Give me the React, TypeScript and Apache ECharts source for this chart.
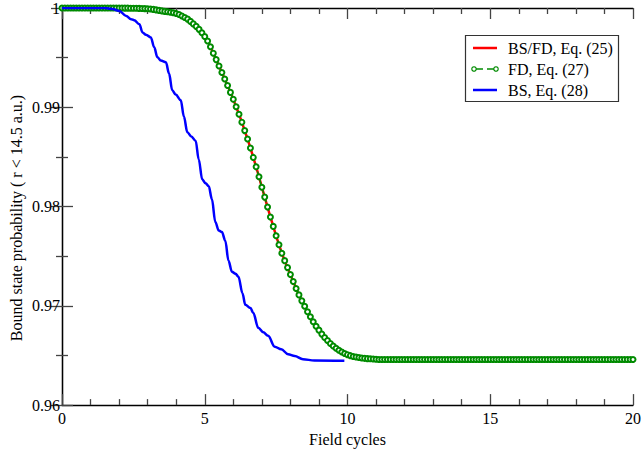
import React, { useEffect, useRef } from "react";
import * as echarts from "echarts";

// Eq. (25) / Eq. (27): bound state probability sampled every 0.1 field cycle, from 0 to 20
const xStep = 0.1;
const probFD: number[] = [
  1, 1, 1, 1, 1, 1, 1, 1, 1, 1,
  1, 1, 1, 1, 1, 1, 1, 1, 1, 1,
  1, 1, 0.99999, 0.99999, 0.99998, 0.99998, 0.99997, 0.99996, 0.99995, 0.99994,
  0.99992, 0.9999, 0.99986, 0.99981, 0.99976, 0.99971, 0.99966, 0.99962, 0.99957, 0.99952,
  0.99945, 0.99935, 0.9992, 0.99905, 0.99888, 0.99865, 0.9984, 0.99815, 0.99785, 0.9975,
  0.99712, 0.99668, 0.9961, 0.99545, 0.9948, 0.99415, 0.9935, 0.99285, 0.9922, 0.9915,
  0.9908, 0.99005, 0.9893, 0.9885, 0.98765, 0.9868, 0.9859, 0.98495, 0.984, 0.983,
  0.98195, 0.98095, 0.97995, 0.97895, 0.978, 0.97705, 0.97615, 0.9753, 0.97455, 0.97385,
  0.97315, 0.97245, 0.97175, 0.9711, 0.9705, 0.96995, 0.9694, 0.9689, 0.9684, 0.96795,
  0.96755, 0.96715, 0.9668, 0.9665, 0.9662, 0.96595, 0.96572, 0.96552, 0.96535, 0.9652,
  0.96508, 0.96498, 0.9649, 0.96484, 0.96479, 0.96475, 0.96471, 0.96468, 0.96466, 0.96464,
  0.96462, 0.9646, 0.9646, 0.9646, 0.9646, 0.9646, 0.9646, 0.9646, 0.9646, 0.9646,
  0.9646, 0.9646, 0.9646, 0.9646, 0.9646, 0.9646, 0.9646, 0.9646, 0.9646, 0.9646,
  0.9646, 0.9646, 0.9646, 0.9646, 0.9646, 0.9646, 0.9646, 0.9646, 0.9646, 0.9646,
  0.9646, 0.9646, 0.9646, 0.9646, 0.9646, 0.9646, 0.9646, 0.9646, 0.9646, 0.9646,
  0.9646, 0.9646, 0.9646, 0.9646, 0.9646, 0.9646, 0.9646, 0.9646, 0.9646, 0.9646,
  0.9646, 0.9646, 0.9646, 0.9646, 0.9646, 0.9646, 0.9646, 0.9646, 0.9646, 0.9646,
  0.9646, 0.9646, 0.9646, 0.9646, 0.9646, 0.9646, 0.9646, 0.9646, 0.9646, 0.9646,
  0.9646, 0.9646, 0.9646, 0.9646, 0.9646, 0.9646, 0.9646, 0.9646, 0.9646, 0.9646,
  0.9646, 0.9646, 0.9646, 0.9646, 0.9646, 0.9646, 0.9646, 0.9646, 0.9646, 0.9646,
  0.9646,
];

// Eq. (28): field cycles and probability
const bsX: number[] = [
  0, 1.5, 1.77, 2.01, 2.25, 2.42, 2.53, 2.71, 2.82, 2.94, 3.11, 3.23, 3.34, 3.46, 3.64,
  3.75, 3.86, 3.98, 4.16, 4.27, 4.39, 4.53, 4.68, 4.79, 4.91, 5.03, 5.14, 5.25, 5.37,
  5.49, 5.6, 5.72, 5.83, 5.95, 6.08, 6.18, 6.32, 6.42, 6.6, 6.7, 6.875, 7.05, 7.22,
  7.45, 7.68, 7.92, 8.15, 8.44, 8.84, 9.89,
];
const bsY: number[] = [
  1, 1, 0.9999, 0.9997, 0.9992, 0.99887, 0.99877, 0.99837, 0.99754, 0.99731, 0.99704,
  0.99604, 0.99504, 0.99471, 0.99454, 0.99339, 0.99172, 0.99129, 0.99072, 0.98906,
  0.98748, 0.98706, 0.98663, 0.98474, 0.98274, 0.98234, 0.98204, 0.98075, 0.97845,
  0.97759, 0.97743, 0.97656, 0.97456, 0.97344, 0.97322, 0.97294, 0.97127, 0.9701,
  0.96978, 0.96928, 0.96778, 0.96733, 0.96698, 0.96589, 0.96562, 0.96512, 0.96494,
  0.96462, 0.96449, 0.96446,
];

const legendLabels = ["BS/FD, Eq. (25)", "FD, Eq. (27)", "BS, Eq. (28)"];
const xTitle = "Field cycles";
const yTitle = "Bound state probability ( r < 14.5 a.u.)";

const FONT = "Liberation Serif";
const RED = "#ff0000";
const GREEN = "#008b00";
const BLUE = "#0000ff";

export default function App() {
  const ref = useRef<HTMLDivElement>(null);
  useEffect(() => {
    if (!ref.current) return;
    const chart = echarts.init(ref.current, undefined, { renderer: "svg" });
    const fdData = probFD.map((v, i) => [+(i * xStep).toFixed(2), v]);
    const bsData = bsX.map((x, i) => [x, bsY[i]]);

    const tickStyle = { color: "#444", width: 1.3 };
    const axisCommon = {
      axisLine: { show: true, lineStyle: { color: "#000", width: 1.3 } },
      axisTick: { show: true, inside: true, length: 11, lineStyle: tickStyle },
      splitLine: { show: false },
    };
    const labelStyle = { color: "#000", fontFamily: FONT, fontSize: 16 };

    const legendRows = [48, 69, 90];
    const graphic: any[] = [
      {
        type: "text",
        x: 16,
        y: 218,
        rotation: Math.PI / 2,
        style: {
          text: yTitle,
          fontFamily: FONT,
          fontSize: 16,
          fill: "#000",
          align: "center",
          verticalAlign: "middle",
        },
      },
      {
        type: "rect",
        z: 100,
        shape: { x: 465.5, y: 35.5, width: 153, height: 66 },
        style: { fill: "#fff", stroke: "#333", lineWidth: 1.2 },
      },
      {
        type: "line",
        z: 101,
        shape: { x1: 473, y1: legendRows[0], x2: 497, y2: legendRows[0] },
        style: { stroke: RED, lineWidth: 2.5 },
      },
      {
        type: "line",
        z: 101,
        shape: { x1: 476, y1: legendRows[1], x2: 483, y2: legendRows[1] },
        style: { stroke: GREEN, lineWidth: 1.5 },
      },
      {
        type: "line",
        z: 101,
        shape: { x1: 487, y1: legendRows[1], x2: 494, y2: legendRows[1] },
        style: { stroke: GREEN, lineWidth: 1.5 },
      },
      {
        type: "circle",
        z: 102,
        shape: { cx: 474, cy: legendRows[1], r: 2.2 },
        style: { fill: "#fff", stroke: GREEN, lineWidth: 1.2 },
      },
      {
        type: "circle",
        z: 102,
        shape: { cx: 496, cy: legendRows[1], r: 2.2 },
        style: { fill: "#fff", stroke: GREEN, lineWidth: 1.2 },
      },
      {
        type: "line",
        z: 101,
        shape: { x1: 473, y1: legendRows[2], x2: 497, y2: legendRows[2] },
        style: { stroke: BLUE, lineWidth: 2.5 },
      },
      ...legendLabels.map((t, i) => ({
        type: "text",
        z: 101,
        x: 508,
        y: legendRows[i],
        style: {
          text: t,
          fontFamily: FONT,
          fontSize: 16,
          fill: "#000",
          align: "left",
          verticalAlign: "middle",
        },
      })),
    ];

    chart.setOption({
      animation: false,
      backgroundColor: "#fff",
      grid: { left: 62, right: 6, top: 7, bottom: 44, containLabel: false },
      xAxis: [
        {
          type: "value",
          position: "bottom",
          min: 0,
          max: 20,
          interval: 5,
          name: xTitle,
          nameLocation: "middle",
          nameGap: 24,
          nameTextStyle: labelStyle,
          ...axisCommon,
          minorTick: { show: true, splitNumber: 5, length: 6, lineStyle: tickStyle },
          axisLabel: { show: true, ...labelStyle, margin: 5 },
        },
        {
          type: "value",
          position: "top",
          min: 0,
          max: 20,
          interval: 5,
          ...axisCommon,
          minorTick: { show: true, splitNumber: 5, length: 6, lineStyle: tickStyle },
          axisLabel: { show: false },
        },
      ],
      yAxis: [
        {
          type: "value",
          position: "left",
          min: 0.96,
          max: 1,
          interval: 0.01,
          ...axisCommon,
          minorTick: { show: true, splitNumber: 2, length: 6, lineStyle: tickStyle },
          axisLabel: {
            show: true,
            ...labelStyle,
            margin: 2,
            formatter: (v: number) => String(+v.toFixed(2)),
          },
        },
        {
          type: "value",
          position: "right",
          min: 0.96,
          max: 1,
          interval: 0.01,
          ...axisCommon,
          minorTick: { show: true, splitNumber: 2, length: 6, lineStyle: tickStyle },
          axisLabel: { show: false },
        },
      ],
      series: [
        {
          name: legendLabels[0],
          type: "line",
          xAxisIndex: 0,
          yAxisIndex: 0,
          data: fdData,
          symbol: "none",
          lineStyle: { color: RED, width: 2.5 },
          z: 2,
        },
        {
          name: legendLabels[1],
          type: "line",
          xAxisIndex: 0,
          yAxisIndex: 0,
          data: fdData,
          symbol: "emptyCircle",
          symbolSize: 5,
          showAllSymbol: true,
          itemStyle: { color: GREEN, borderColor: GREEN, borderWidth: 1 },
          lineStyle: { color: GREEN, width: 1.5, type: [5, 4] },
          z: 3,
        },
        {
          name: legendLabels[2],
          type: "line",
          xAxisIndex: 0,
          yAxisIndex: 0,
          data: bsData,
          symbol: "none",
          smooth: 0.35,
          smoothMonotone: "x",
          lineStyle: { color: BLUE, width: 2.5 },
          z: 4,
        },
      ],
      graphic,
    });
    return () => chart.dispose();
  }, []);
  return (
    <div
      ref={ref}
      style={{ position: "fixed", left: 0, top: 0, width: 644, height: 452, background: "#fff" }}
    />
  );
}
